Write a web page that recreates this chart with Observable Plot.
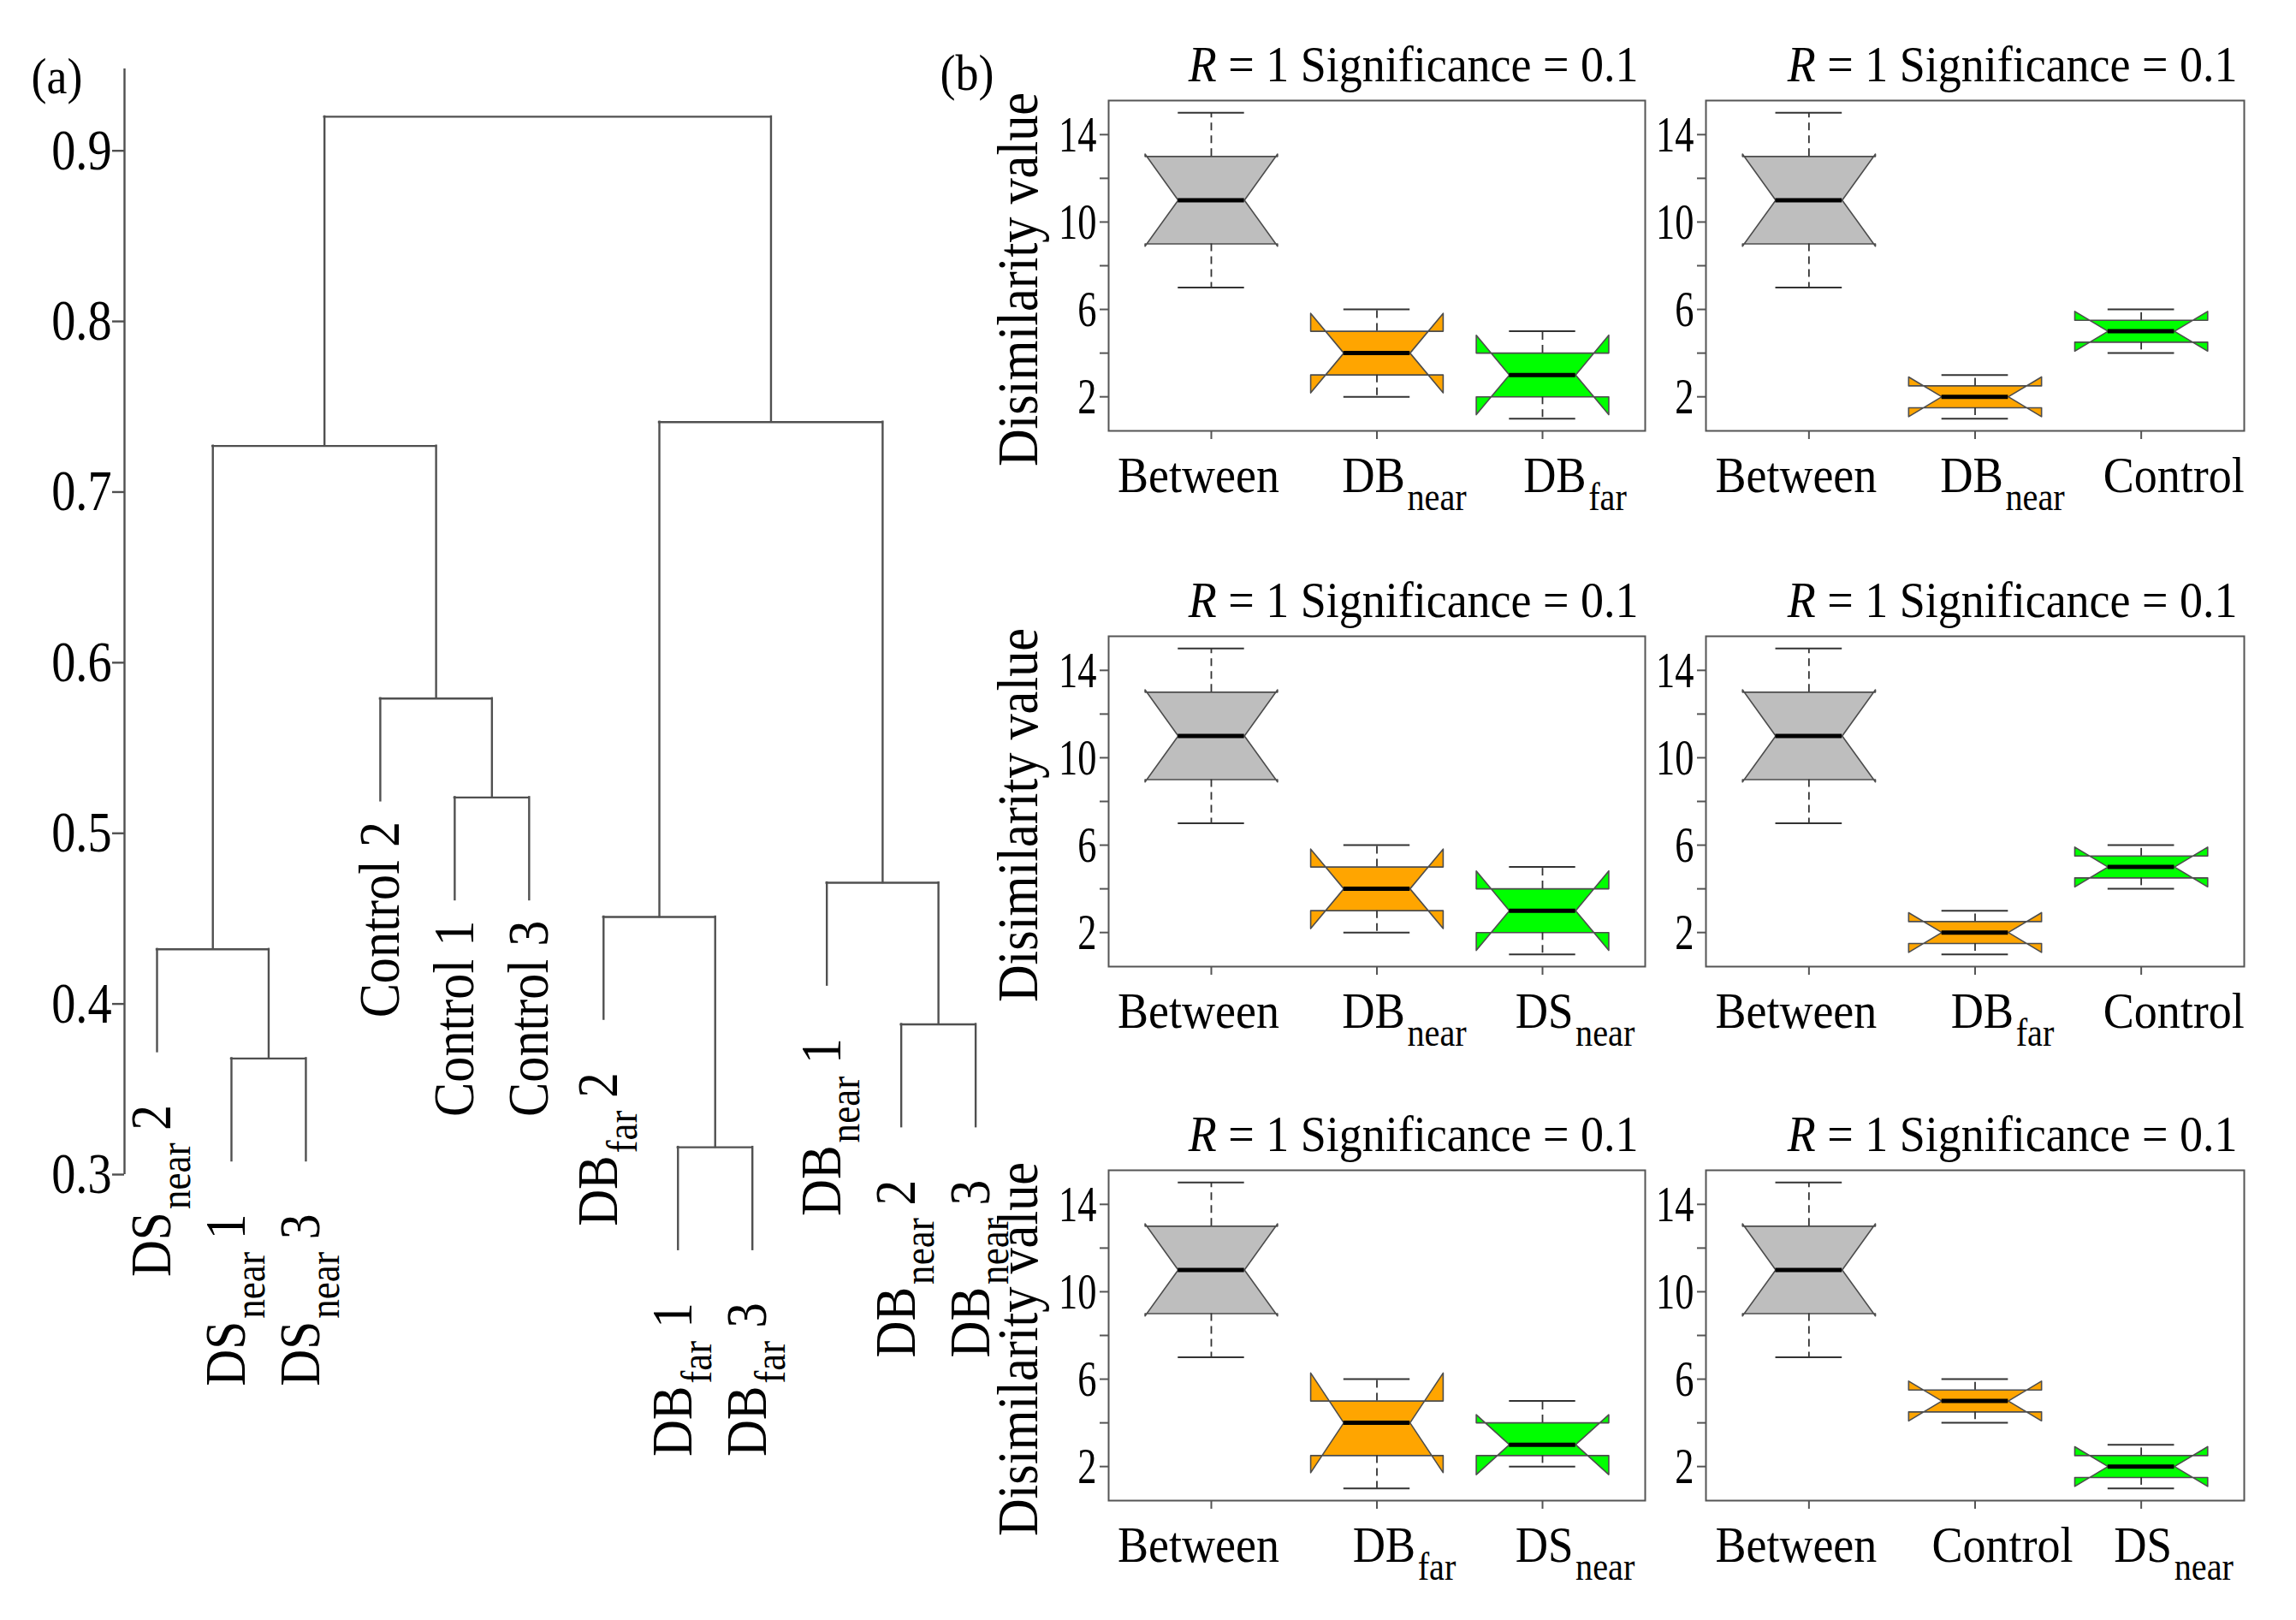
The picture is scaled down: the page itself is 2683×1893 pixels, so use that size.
<!DOCTYPE html>
<html><head><meta charset="utf-8">
<script src="https://cdn.jsdelivr.net/npm/d3@7"></script>
<script src="https://cdn.jsdelivr.net/npm/@observablehq/plot@0.6"></script>
<style>
html,body{margin:0;padding:0;background:#fff;}
#root{position:relative;width:2683px;height:1893px;overflow:hidden;background:#fff;}
#root svg{position:absolute;overflow:visible;background:none;max-width:none;}
</style></head><body><div id="root"></div>
<script>
// ---------- Panel (a): dendrogram data ----------
const leafLabels = ["DS[near] 2","DS[near] 1","DS[near] 3","Control 2","Control 1","Control 3",
                    "DB[far] 2","DB[far] 1","DB[far] 3","DB[near] 1","DB[near] 2","DB[near] 3"];
// R hclust-style merges: negative = leaf (1-based), positive = earlier merge step (1-based)
const mergeA = [-2, -1, -5, -4, 2, -8, -7, -11, -10, 7, 5];
const mergeB = [-3,  1, -6,  3, 4, -9,  6, -12,   8, 9, 10];
const mergeHeight = [0.368, 0.432, 0.521, 0.579, 0.727, 0.316, 0.451, 0.388, 0.471, 0.741, 0.920];
const dendroTicks = [0.3, 0.4, 0.5, 0.6, 0.7, 0.8, 0.9];

// ---------- Panel (b): box plots ----------
const titleText = "*R* = 1 Significance = 0.1";
const yTicks = [2, 4, 6, 8, 10, 12, 14];
const yTickLabels = [2, 6, 10, 14];
const boxFills = ["#bebebe", "#ffa500", "#00ff00"];
// stats: [min, lower hinge, median, upper hinge, max, notch low, notch high]
const groupsP1 = ["Between", "DB[near]", "DB[far]"];
const statsP1 = [[7, 9, 11, 13, 15, 8.89, 13.11], [2, 3, 4, 5, 6, 2.18, 5.82], [1, 2, 3, 4, 5, 1.18, 4.82]];
const groupsP2 = ["Between", "DB[near]", "Control"];
const statsP2 = [[7, 9, 11, 13, 15, 8.89, 13.11], [1, 1.5, 2, 2.5, 3, 1.09, 2.91], [4, 4.5, 5, 5.5, 6, 4.09, 5.91]];
const groupsP3 = ["Between", "DB[near]", "DS[near]"];
const statsP3 = [[7, 9, 11, 13, 15, 8.89, 13.11], [2, 3, 4, 5, 6, 2.18, 5.82], [1, 2, 3, 4, 5, 1.18, 4.82]];
const groupsP4 = ["Between", "DB[far]", "Control"];
const statsP4 = [[7, 9, 11, 13, 15, 8.89, 13.11], [1, 1.5, 2, 2.5, 3, 1.09, 2.91], [4, 4.5, 5, 5.5, 6, 4.09, 5.91]];
const groupsP5 = ["Between", "DB[far]", "DS[near]"];
const statsP5 = [[7, 9, 11, 13, 15, 8.89, 13.11], [1, 2.5, 4, 5, 6, 1.72, 6.28], [2, 2.5, 3, 4, 5, 1.63, 4.37]];
const groupsP6 = ["Between", "Control", "DS[near]"];
const statsP6 = [[7, 9, 11, 13, 15, 8.89, 13.11], [4, 4.5, 5, 5.5, 6, 4.09, 5.91], [1, 1.5, 2, 2.5, 3, 1.09, 2.91]];

const FONT = "'Liberation Serif', 'Times New Roman', serif";
const root = document.getElementById("root");

// Convert mini-markup: *x* italic, [x] subscript
function richify(svg) {
  svg.querySelectorAll("text").forEach(t => {
    const targets = t.querySelector("tspan") ? [...t.querySelectorAll("tspan")] : [t];
    targets.forEach(el => {
      const s = el.textContent;
      if (!/[\[\*]/.test(s)) return;
      const fs = parseFloat(getComputedStyle(el).fontSize) || 50;
      const shift = fs * 0.34;
      el.textContent = "";
      const re = /\*([^*]+)\*|\[([^\]]+)\]|([^*\[]+)/g;
      let m, down = false;
      while ((m = re.exec(s))) {
        const sp = document.createElementNS("http://www.w3.org/2000/svg", "tspan");
        if (m[2]) {
          sp.textContent = m[2];
          sp.setAttribute("font-size", (fs * 0.76).toFixed(1));
          sp.setAttribute("dx", (fs * 0.05).toFixed(1));
          sp.setAttribute("dy", shift.toFixed(1));
          down = true;
        } else {
          sp.textContent = m[1] || m[3];
          if (m[1]) sp.setAttribute("font-style", "italic");
          if (down) { sp.setAttribute("dy", (-shift).toFixed(1)); down = false; }
        }
        el.appendChild(sp);
      }
    });
  });
}

// The reference typeface is a slightly condensed Times: squeeze glyphs horizontally
function condense(svg, tickFactor) {
  svg.querySelectorAll("text").forEach(t => {
    if (!t.textContent.trim()) return;
    const g = t.closest("g[aria-label]");
    const isYTick = g && g.getAttribute("aria-label") === "y-axis tick label";
    const f = isYTick ? tickFactor : 0.9;
    const L = t.getComputedTextLength();
    if (!(L > 0)) return;
    t.setAttribute("textLength", (L * f).toFixed(1));
    t.setAttribute("lengthAdjust", "spacingAndGlyphs");
  });
}

function place(svg, left, top, tickFactor) {
  svg.style.left = left + "px";
  svg.style.top = top + "px";
  root.appendChild(svg);
  richify(svg);
  condense(svg, tickFactor);
}

// ---------- Dendrogram ----------
(function () {
  const hang = 0.06;
  const nodeX = [];
  const verticals = [], horizontals = [], leaves = [];
  for (let i = 0; i < mergeHeight.length; i++) {
    const H = mergeHeight[i];
    const kids = [mergeA[i], mergeB[i]].map(c => {
      if (c < 0) {
        const idx = -c - 1;
        const bottom = H - hang;
        leaves.push({x: idx, y: bottom, label: leafLabels[idx], sub: /\[/.test(leafLabels[idx])});
        return {x: idx, h: bottom};
      }
      return {x: nodeX[c - 1], h: mergeHeight[c - 1]};
    });
    kids.forEach(k => verticals.push({x: k.x, y1: k.h, y2: H}));
    horizontals.push({y: H, x1: kids[0].x, x2: kids[1].x});
    nodeX.push((kids[0].x + kids[1].x) / 2);
  }
  const xDom = [-0.437, 11.2], yDom = [0.3, 0.948];
  const lineStyle = {stroke: "#505050", strokeWidth: 2.4, strokeLinecap: "square"};
  const svg = Plot.plot({
    width: 1200, height: 1800,
    marginLeft: 145, marginRight: 43, marginTop: 80, marginBottom: 428,
    x: {domain: xDom, axis: null},
    y: {domain: yDom},
    style: {fontFamily: FONT, background: "none", overflow: "visible", color: "#000"},
    marks: [
      Plot.ruleX([xDom[0]], {y1: yDom[0], y2: yDom[1], stroke: "#505050", strokeWidth: 2.4}),
      Plot.axisY({ticks: dendroTicks, tickFormat: d3.format(".1f"), tickSize: 14, tickPadding: 1,
                  fontSize: 67, label: null, stroke: "#505050", strokeWidth: 2.4, fill: "#000"}),
      Plot.ruleX(verticals, {x: "x", y1: "y1", y2: "y2", ...lineStyle}),
      Plot.ruleY(horizontals, {y: "y", x1: "x1", x2: "x2", ...lineStyle}),
      Plot.text(leaves.filter(d => !d.sub), {x: "x", y: "y", text: "label", rotate: -90, textAnchor: "end",
                dy: 24, fontSize: 67, fill: "#000"}),
      Plot.text(leaves.filter(d => d.sub), {x: "x", y: "y", text: "label", rotate: -90, textAnchor: "end",
                dx: -6, dy: 62, fontSize: 67, fill: "#000"}),
      Plot.text(["(a)"], {frameAnchor: "top-left", text: d => d, textAnchor: "start", lineAnchor: "bottom",
                dx: -109, dy: 28, fontSize: 60, fill: "#000"})
    ]
  });
  place(svg, 0, 0, 0.84);
})();

// ---------- Box plot panels ----------
const xLabelShift = [-15, 32, 38]; // label centres sit slightly off their ticks in the reference
function boxPanel(groups, stats, opts) {
  const {frameLeft, frameTop, frameW, frameH, yLabel, tag} = opts;
  const mL = yLabel ? 150 : 60, mR = 5, mT = 75, mB = 110;
  const w = 0.4, nf = 0.5;
  const boxes = stats.map((s, i) => ({x: i + 1, min: s[0], q1: s[1], med: s[2], q3: s[3], max: s[4], lo: s[5], hi: s[6]}));
  const polys = boxes.map(b => {
    const x = b.x;
    return [[x - w, b.q1], [x + w, b.q1], [x + w, b.lo], [x + nf * w, b.med], [x + w, b.hi], [x + w, b.q3],
            [x - w, b.q3], [x - w, b.hi], [x - nf * w, b.med], [x - w, b.lo]].map(([px, py]) => ({px, py}));
  });
  const whisk = {stroke: "#333", strokeWidth: 1.8, strokeDasharray: "9,6"};
  const staple = {stroke: "#333", strokeWidth: 2};
  const marks = [
    ...polys.map((p, i) => Plot.line(p, {x: "px", y: "py", curve: "linear-closed", fill: boxFills[i],
                                         stroke: "#4d4d4d", strokeWidth: 1.6})),
    Plot.ruleY(boxes, {y: "med", x1: d => d.x - nf * w, x2: d => d.x + nf * w, stroke: "#000", strokeWidth: 5}),
    Plot.ruleX(boxes, {x: "x", y1: "q3", y2: "max", ...whisk}),
    Plot.ruleX(boxes, {x: "x", y1: "q1", y2: "min", ...whisk}),
    Plot.ruleY(boxes, {y: "max", x1: d => d.x - nf * w, x2: d => d.x + nf * w, ...staple}),
    Plot.ruleY(boxes, {y: "min", x1: d => d.x - nf * w, x2: d => d.x + nf * w, ...staple}),
    Plot.frame({stroke: "#555", strokeWidth: 2}),
    Plot.axisY({ticks: yTicks, tickFormat: d => yTickLabels.includes(d) ? String(d) : "", tickSize: 10,
                tickPadding: 4, fontSize: 60, label: null, stroke: "#555", strokeWidth: 2, fill: "#000"}),
    Plot.axisX({ticks: [1, 2, 3], tickFormat: () => "", tickSize: 10, label: null, stroke: "#555", strokeWidth: 2}),
    ...groups.map((g, i) => Plot.axisX({ticks: [i + 1], tickFormat: d => groups[d - 1], tickSize: 0, tickPadding: 29,
                fontSize: 60, label: null, dx: xLabelShift[i], fill: "#000"})),
    Plot.text([titleText], {frameAnchor: "top-right", text: d => d, textAnchor: "end", lineAnchor: "bottom",
                            dx: -8, dy: -23, fontSize: 60, fill: "#000"})
  ];
  if (yLabel) marks.push(Plot.text([yLabel], {frameAnchor: "left", text: d => d, rotate: -90, lineAnchor: "top",
                                               textAnchor: "middle", dx: -131, dy: 16, fontSize: 67, fill: "#000"}));
  if (tag) marks.push(Plot.text([tag], {frameAnchor: "top-left", text: d => d, textAnchor: "start", lineAnchor: "bottom",
                                        dx: -197, dy: -13, fontSize: 60, fill: "#000"}));
  const svg = Plot.plot({
    width: mL + frameW + mR, height: mT + frameH + mB,
    marginLeft: mL, marginRight: mR, marginTop: mT, marginBottom: mB,
    x: {domain: [0.38, 3.62], axis: null},
    y: {domain: [0.44, 15.56]},
    style: {fontFamily: FONT, background: "none", overflow: "visible", color: "#000"},
    marks
  });
  place(svg, frameLeft - mL, frameTop - mT, 0.74);
}

const colX = [1295, 1993], colW = [627, 629];
const rowY = [117, 743, 1367], rowH = 386;
const yLab = "Disimilarity value";
boxPanel(groupsP1, statsP1, {frameLeft: colX[0], frameTop: rowY[0], frameW: colW[0], frameH: rowH, yLabel: yLab, tag: "(b)"});
boxPanel(groupsP2, statsP2, {frameLeft: colX[1], frameTop: rowY[0], frameW: colW[1], frameH: rowH});
boxPanel(groupsP3, statsP3, {frameLeft: colX[0], frameTop: rowY[1], frameW: colW[0], frameH: rowH, yLabel: yLab});
boxPanel(groupsP4, statsP4, {frameLeft: colX[1], frameTop: rowY[1], frameW: colW[1], frameH: rowH});
boxPanel(groupsP5, statsP5, {frameLeft: colX[0], frameTop: rowY[2], frameW: colW[0], frameH: rowH, yLabel: yLab});
boxPanel(groupsP6, statsP6, {frameLeft: colX[1], frameTop: rowY[2], frameW: colW[1], frameH: rowH});
</script></body></html>
